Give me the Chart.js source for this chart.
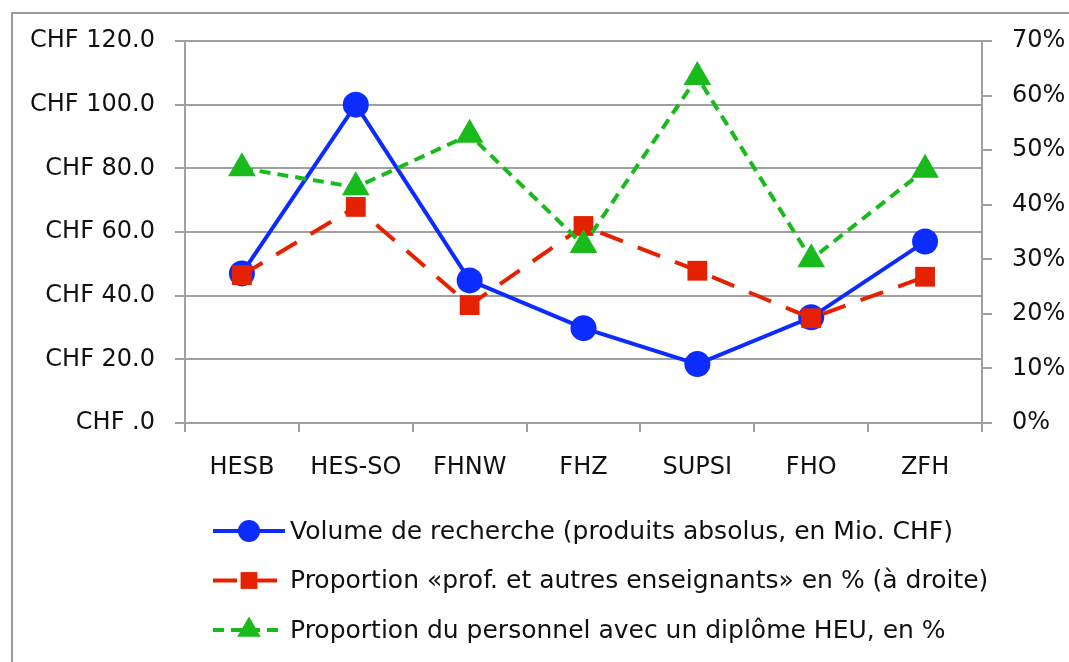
<!DOCTYPE html>
<html>
<head>
<meta charset="utf-8">
<script src="https://cdn.jsdelivr.net/npm/chart.js@4.4.1/dist/chart.umd.min.js"></script>
<style>
  body { margin: 0; background: #fff; }
  #wrap { width: 1069px; height: 662px; }
</style>
</head>
<body>
<div id="wrap"><canvas id="chart" width="1069" height="662"></canvas></div>
<script>
// Data
const categories = ['HESB', 'HES-SO', 'FHNW', 'FHZ', 'SUPSI', 'FHO', 'ZFH'];
const researchVolume = [47.0, 100.0, 44.8, 29.8, 18.5, 33.2, 57.0];
const profShare = [27.1, 39.6, 21.6, 36.1, 27.9, 19.2, 26.8];
const heuShare = [46.7, 43.2, 52.8, 32.6, 63.4, 30.0, 46.4];
const seriesLabels = [
  'Volume de recherche (produits absolus, en Mio. CHF)',
  'Proportion «prof. et autres enseignants» en % (à droite)',
  'Proportion du personnel avec un diplôme HEU, en %'
];

const gridColor = '#a0a0a0';
const axisFont = { family: 'DejaVu Sans', size: 24 };

// outer frame
const framePlugin = {
  id: 'frame',
  beforeDraw(chart) {
    const ctx = chart.ctx;
    ctx.save();
    ctx.fillStyle = '#fff';
    ctx.fillRect(0, 0, chart.width, chart.height);
    ctx.strokeStyle = '#9a9a9a';
    ctx.lineWidth = 2;
    ctx.strokeRect(12, 13, chart.width + 20, chart.height + 20);
    ctx.restore();
  }
};

// legend below the chart: line + marker + label
const legendPlugin = {
  id: 'lineLegend',
  afterDraw(chart) {
    const ctx = chart.ctx;
    ctx.save();
    chart.data.datasets.forEach((ds, i) => {
      const y = 531 + i * 49.5;
      ctx.strokeStyle = ds.borderColor;
      ctx.lineWidth = ds.borderWidth;
      ctx.setLineDash(ds.borderDash || []);
      ctx.beginPath();
      ctx.moveTo(213, y);
      ctx.lineTo(285, y);
      ctx.stroke();
      ctx.setLineDash([]);
      ctx.fillStyle = ds.pointBackgroundColor;
      Chart.helpers.drawPoint(ctx, {
        pointStyle: ds.pointStyle,
        radius: ds.pointRadius * 0.85,
        rotation: 0,
        borderWidth: 0
      }, 249, y);
      ctx.fillStyle = '#111';
      ctx.font = '25px "DejaVu Sans"';
      ctx.textBaseline = 'middle';
      ctx.fillText(ds.label, 290, y + 1);
    });
    ctx.restore();
  }
};

new Chart(document.getElementById('chart'), {
  type: 'line',
  data: {
    labels: categories,
    datasets: [{
      label: seriesLabels[0],
      data: researchVolume,
      yAxisID: 'y',
      order: 3,
      borderColor: '#0b2bff',
      backgroundColor: '#0b2bff',
      pointBackgroundColor: '#0b2bff',
      borderWidth: 4,
      pointStyle: 'circle',
      pointRadius: 13,
      pointBorderWidth: 0,
      tension: 0
    }, {
      label: seriesLabels[1],
      data: profShare,
      yAxisID: 'y1',
      order: 2,
      borderColor: '#e52200',
      backgroundColor: '#e52200',
      pointBackgroundColor: '#e52200',
      borderWidth: 4,
      borderDash: [24, 16],
      pointStyle: 'rect',
      pointRadius: 14,
      pointBorderWidth: 0,
      tension: 0
    }, {
      label: seriesLabels[2],
      data: heuShare,
      yAxisID: 'y1',
      order: 1,
      borderColor: '#19bb1c',
      backgroundColor: '#19bb1c',
      pointBackgroundColor: '#19bb1c',
      borderWidth: 4,
      borderDash: [11, 7],
      pointStyle: 'triangle',
      pointRadius: 16,
      pointBorderWidth: 0,
      tension: 0
    }]
  },
  options: {
    responsive: false,
    animation: false,
    events: [],
    layout: { padding: { top: 41, left: 0, right: 0, bottom: 0 } },
    plugins: {
      legend: { display: false },
      tooltip: { enabled: false }
    },
    scales: {
      x: {
        offset: true,
        grid: {
          offset: true,
          drawOnChartArea: false,
          tickLength: 9,
          color: gridColor,
          lineWidth: 2
        },
        border: { color: gridColor, width: 2 },
        ticks: { font: axisFont, color: '#111', padding: 21, maxRotation: 0 },
        afterFit: scale => { scale.height = 239; }
      },
      y: {
        position: 'left',
        min: 0,
        max: 120,
        ticks: {
          stepSize: 20,
          font: axisFont,
          color: '#111',
          padding: 20,
          callback: v => 'CHF ' + (v === 0 ? '.0' : v.toFixed(1))
        },
        grid: { color: gridColor, lineWidth: 2, tickLength: 10 },
        border: { color: gridColor, width: 2 },
        afterFit: scale => { scale.width = 185; }
      },
      y1: {
        position: 'right',
        min: 0,
        max: 70,
        ticks: {
          stepSize: 10,
          font: axisFont,
          color: '#111',
          padding: 20,
          callback: v => v + '%'
        },
        grid: { drawOnChartArea: false, color: gridColor, lineWidth: 2, tickLength: 10 },
        border: { color: gridColor, width: 2 },
        afterFit: scale => { scale.width = 87; }
      }
    }
  },
  plugins: [framePlugin, legendPlugin]
});
</script>
</body>
</html>
